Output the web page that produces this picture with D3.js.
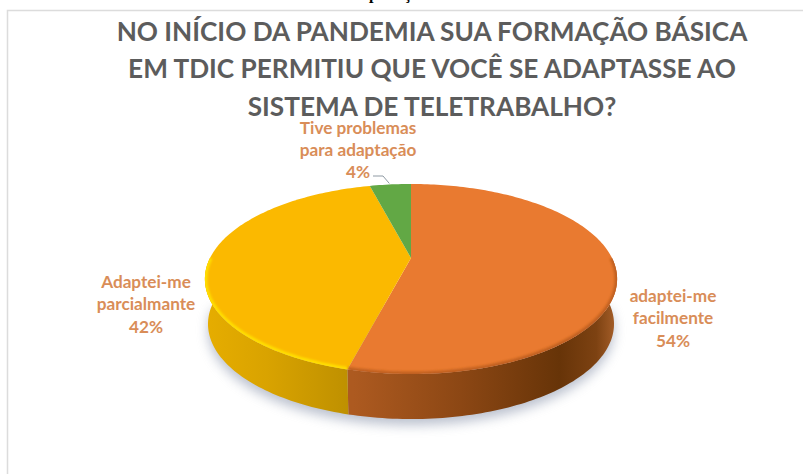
<!DOCTYPE html>
<html>
<head>
<meta charset="utf-8">
<script src="https://cdnjs.cloudflare.com/ajax/libs/d3/7.8.5/d3.min.js"></script>
<style>
  html, body { margin: 0; padding: 0; background: #fff; }
  svg { display: block; }
</style>
</head>
<body>
<svg id="chart" width="803" height="474"></svg>
<script>
// Survey answers, as percentages
const categories = ["adaptei-me facilmente", "Adaptei-me parcialmante", "Tive problemas para adaptação"];
const values = [54, 42, 4];
const topColors = ["#e97a30", "#fbb900", "#62a845"];
const labelLines = [["adaptei-me", "facilmente", "54%"], ["Adaptei-me", "parcialmante", "42%"], ["Tive problemas", "para adaptação", "4%"]];
const titleLines = [
  "NO INÍCIO DA PANDEMIA SUA FORMAÇÃO BÁSICA",
  "EM TDIC PERMITIU QUE VOCÊ SE ADAPTASSE AO",
  "SISTEMA DE TELETRABALHO?"
];

const svg = d3.select("#chart");
const defs = svg.append("defs");

// Perspective view of a flat disc: v = 1 is the far rim, v = -1 the near rim
const apex = { x: 411, y: 258 };
const tilt = 0.221, spreadX = 201, spreadY = 90.4, wallDepth = 45;
function project(angle, r = 1, drop = 0, shrink = 1) {
  const u = r * Math.sin(angle), v = r * Math.cos(angle), w = 1 + tilt * v;
  return [apex.x + shrink * spreadX * u / w, apex.y - spreadY * v / w + drop];
}
const line = d3.line();
const pie = d3.pie().sort(null).value(d => d)(values);

function rim(a0, a1, drop = 0, shrink = 1) {
  const n = Math.max(2, Math.ceil(Math.abs(a1 - a0) / 0.02));
  return d3.range(n + 1).map(i => project(a0 + (a1 - a0) * i / n, 1, drop, shrink));
}

// Gradients for the outer wall
function wallGradient(id, stops) {
  const g = defs.append("linearGradient").attr("id", id)
    .attr("gradientUnits", "userSpaceOnUse")
    .attr("x1", 205).attr("x2", 617).attr("y1", 0).attr("y2", 0);
  stops.forEach(([o, c]) => g.append("stop").attr("offset", o).attr("stop-color", c));
}
wallGradient("wall0", [[0.36, "#ad5a20"], [0.62, "#8c4714"], [0.86, "#673408"], [0.95, "#7d4212"], [1, "#a8602a"]]);
wallGradient("wall1", [[0, "#e6ad00"], [0.15, "#d9a300"], [0.36, "#bd8f00"]]);

defs.append("filter").attr("id", "soft").attr("x", "-20%").attr("y", "-20%").attr("width", "140%").attr("height", "140%")
  .append("feGaussianBlur").attr("stdDeviation", 6);
defs.append("filter").attr("id", "bevel").attr("x", "-5%").attr("y", "-5%").attr("width", "110%").attr("height", "110%")
  .append("feGaussianBlur").attr("stdDeviation", 1.2);

// Page frame
svg.append("path").attr("d", "M7.5,474V10.5H803")
  .attr("fill", "none").attr("stroke", "#dcdcdc").attr("stroke-width", 1.5);

// Line of text above the frame, pushed past the top edge so only its descenders show
svg.append("text").attr("x", "369 404").attr("y", -1)
  .attr("font-family", "Liberation Serif").attr("font-weight", "bold").attr("font-size", 16)
  .attr("fill", "#000").text("pç");

// Title
svg.append("g").selectAll("text").data(titleLines).join("text")
  .attr("class", "title")
  .attr("x", 432).attr("y", (d, i) => [40.5, 78, 116][i])
  .attr("text-anchor", "middle").attr("font-family", "Lato").attr("font-size", 26.2)
  .attr("font-weight", 700).attr("fill", "#5c5c5c").text(d => d);

// Ground shadow under the disc
svg.append("path")
  .attr("d", line(rim(Math.PI * 0.5, Math.PI * 1.5, wallDepth + 6, 0.985)) + "Z")
  .attr("fill", "#8d97ad").attr("opacity", 0.6).attr("filter", "url(#soft)");

// Outer wall: only the near half of the rim is visible
const nearStart = Math.PI / 2, nearEnd = Math.PI * 1.5;
pie.forEach((s, i) => {
  const a0 = Math.max(s.startAngle, nearStart), a1 = Math.min(s.endAngle, nearEnd);
  if (a1 <= a0) return;
  const upper = rim(a0, a1), lower = rim(a1, a0, wallDepth, 0.985);
  svg.append("path").attr("class", "wall")
    .attr("d", line(upper.concat(lower)) + "Z")
    .attr("fill", `url(#wall${i})`);
});

// Top face
const faces = svg.append("g");
pie.forEach((s, i) => {
  faces.append("path").attr("class", "slice")
    .attr("d", line([[apex.x, apex.y]].concat(rim(s.startAngle, s.endAngle))) + "Z")
    .attr("fill", topColors[i]);
});

// Soft bevel along the near rim of the top face
defs.append("clipPath").attr("id", "faceClip").append("path")
  .attr("d", line(rim(0, Math.PI * 2)) + "Z");
const bevel = svg.append("g").attr("clip-path", "url(#faceClip)");
const bevelColors = ["#b3591b", "#ffdf00"];
pie.slice(0, 2).forEach((s, i) => {
  const a0 = Math.max(s.startAngle, nearStart), a1 = Math.min(s.endAngle, nearEnd);
  bevel.append("path").attr("d", line(rim(a0, a1)))
    .attr("fill", "none").attr("stroke", bevelColors[i]).attr("stroke-width", 5)
    .attr("filter", "url(#bevel)").attr("opacity", i ? 1 : 0.75);
});

// Data labels
const labelAnchors = [{ x: 673, y: 302 }, { x: 146, y: 288 }, { x: 358, y: 133.5 }];
const labelGap = 22.4;
pie.forEach((s, i) => {
  svg.append("text").attr("class", "label")
    .attr("text-anchor", "middle").attr("font-family", "Lato").attr("font-size", 17.2)
    .attr("font-weight", 700).attr("fill", "#d98d58")
    .selectAll("tspan").data(labelLines[i]).join("tspan")
    .attr("x", labelAnchors[i].x)
    .attr("y", (d, k) => labelAnchors[i].y + k * labelGap)
    .text(d => d);
});

// Leader from the smallest slice to its label
const leaderEnd = project((pie[2].startAngle + pie[2].endAngle) / 2);
svg.append("path")
  .attr("d", `M373,176L383,176L${leaderEnd[0] - 1},${leaderEnd[1] - 1}`)
  .attr("fill", "none").attr("stroke", "#8f9aa3").attr("stroke-width", 1);
</script>
</body>
</html>
